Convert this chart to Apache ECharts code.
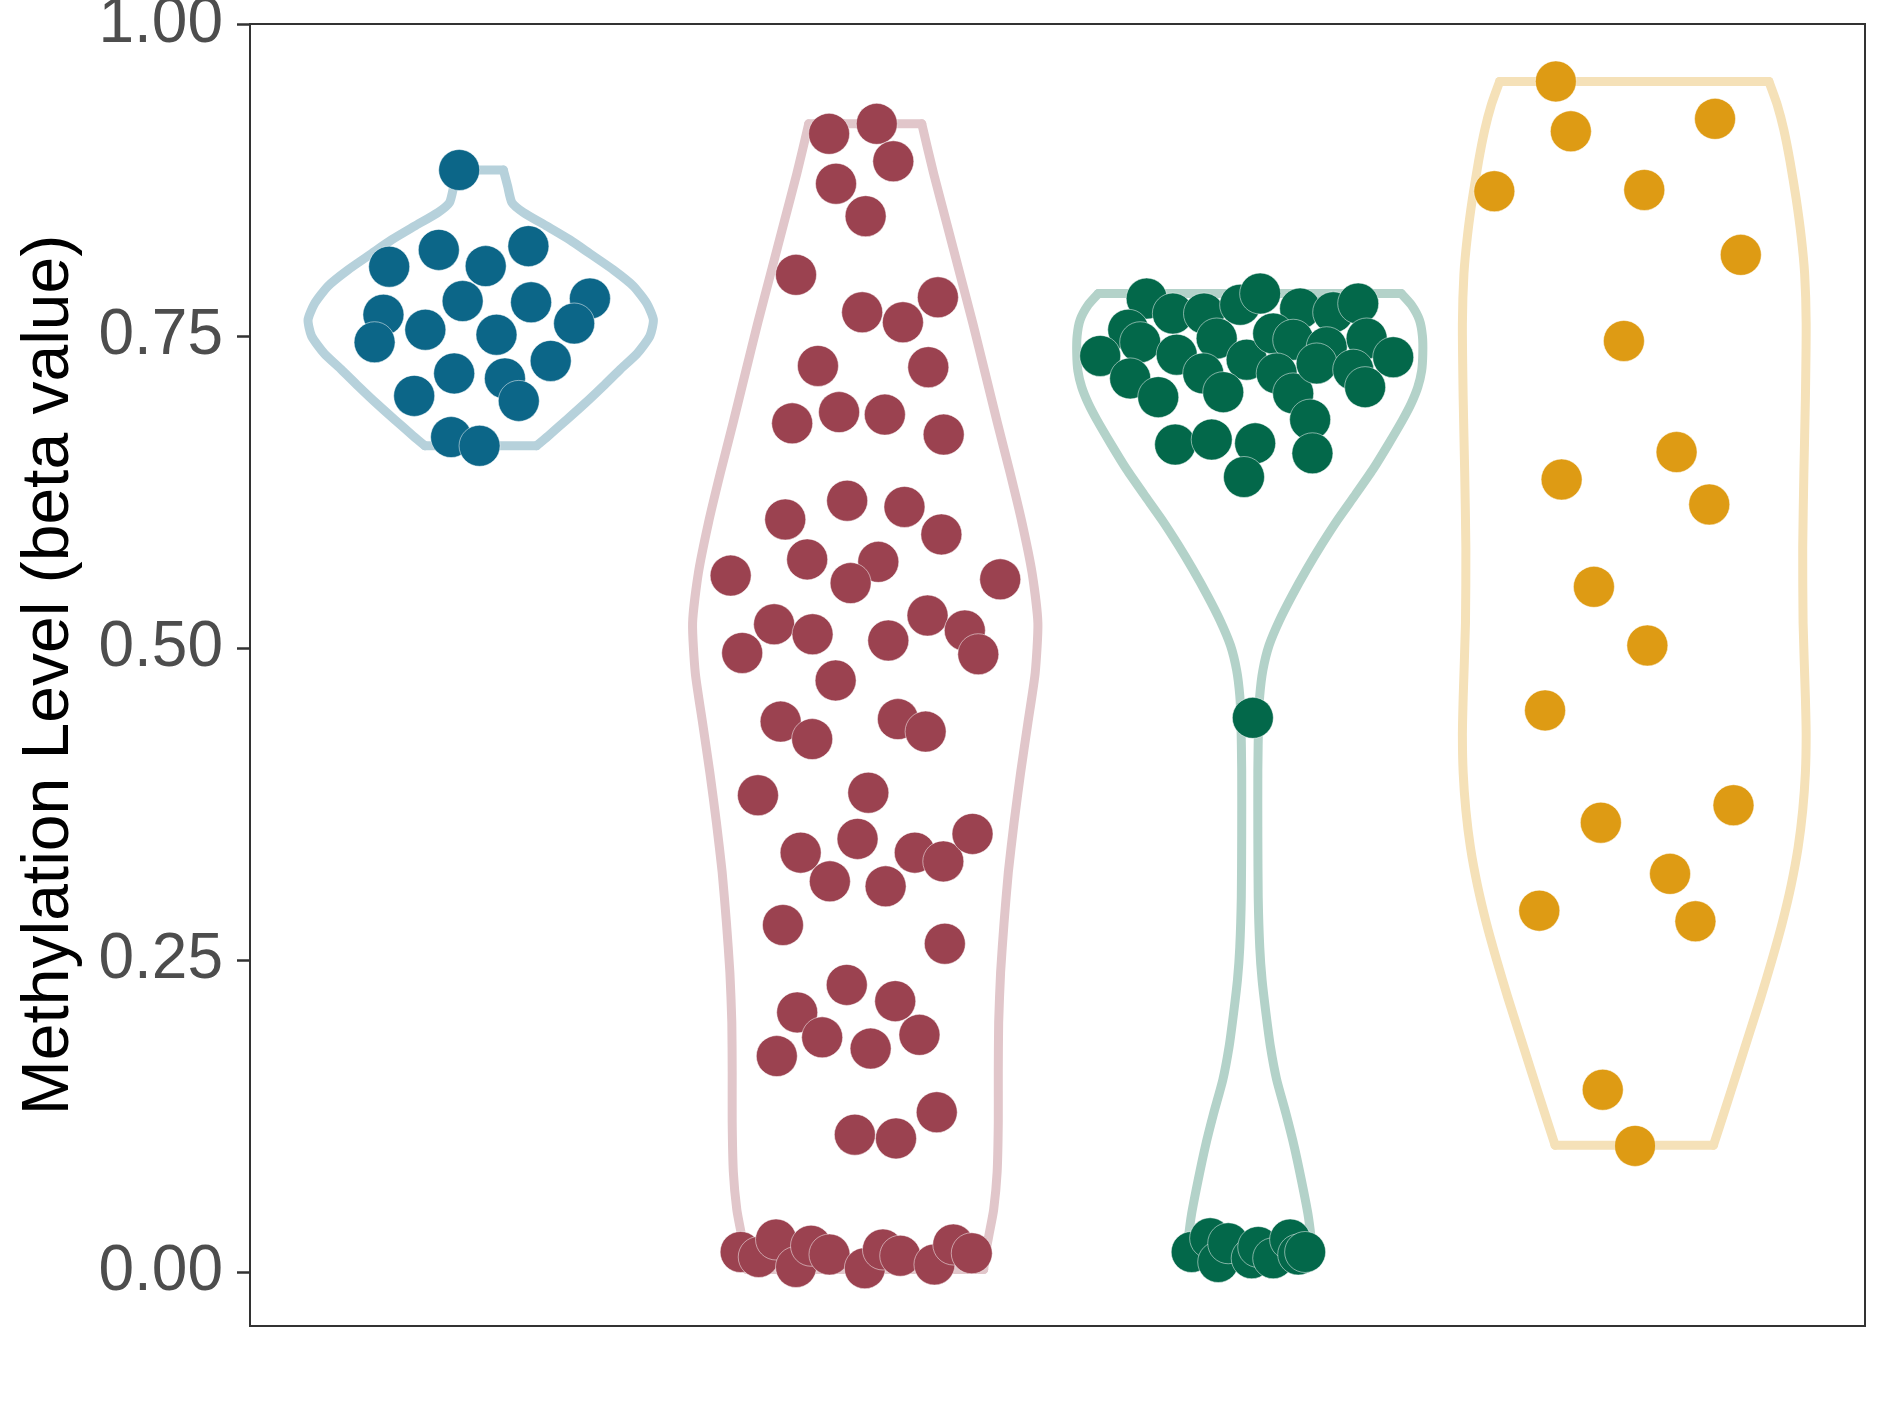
<!DOCTYPE html>
<html>
<head>
<meta charset="utf-8">
<script src="https://cdn.jsdelivr.net/npm/echarts@6/dist/echarts.min.js"></script>
<style>
html,body{margin:0;padding:0;background:#fff;}
#chart{width:1889px;height:1417px;}
</style>
</head>
<body>
<div id="chart"></div>
<script>
// ---- data ----
const groupPositions = [1, 2, 3, 4];
const dotColors = ['#0C6688', '#9B4250', '#03684A', '#DE9B14'];
const violinColors = ['#B6D1DB', '#E1C6CA', '#B3D2C9', '#F5E1B8'];
const yTicks = [0, 0.25, 0.5, 0.75, 1.0];
const yTitle = 'Methylation Level (beta value)';

// violin profiles: value levels and half widths (in category units)
const blueViolinY = [0.883,0.870,0.857,0.849,0.838,0.827,0.816,0.803,0.790,0.776,0.763,0.750,0.736,0.723,0.710,0.696,0.683,0.670,0.662];
const blueViolinHalf = [0.059,0.070,0.081,0.111,0.172,0.232,0.284,0.345,0.397,0.432,0.449,0.440,0.407,0.362,0.319,0.271,0.224,0.176,0.145];

const redViolinY = [0.920,0.88,0.84,0.80,0.76,0.72,0.68,0.64,0.60,0.56,0.52,0.48,0.44,0.40,0.36,0.32,0.28,0.24,0.20,0.16,0.12,0.08,0.05,0.03,0.015,0.002];
const redViolinHalf = [0.147,0.178,0.212,0.246,0.280,0.312,0.344,0.377,0.408,0.434,0.449,0.442,0.423,0.404,0.387,0.372,0.361,0.352,0.347,0.346,0.346,0.343,0.334,0.322,0.313,0.308];

const greenViolinY = [0.784,0.775,0.763,0.750,0.736,0.722,0.709,0.696,0.683,0.663,0.643,0.623,0.603,0.583,0.5625,0.542,0.522,0.502,0.482,0.462,0.442,0.402,0.35,0.30,0.26,0.234,0.2075,0.180,0.154,0.127,0.100,0.074,0.047,0.026,0.008];
const greenViolinHalf = [0.394,0.420,0.441,0.449,0.450,0.447,0.437,0.420,0.398,0.360,0.320,0.275,0.229,0.187,0.147,0.110,0.077,0.050,0.034,0.026,0.023,0.021,0.021,0.022,0.026,0.032,0.042,0.054,0.070,0.094,0.116,0.134,0.151,0.160,0.165];

const orangeViolinY = [0.954,0.935,0.915,0.89,0.86,0.83,0.80,0.76,0.70,0.64,0.58,0.52,0.46,0.43,0.40,0.37,0.34,0.31,0.28,0.25,0.22,0.19,0.16,0.13,0.1016];
const orangeViolinHalf = [0.350,0.372,0.389,0.405,0.421,0.434,0.443,0.447,0.445,0.441,0.438,0.439,0.445,0.447,0.445,0.438,0.426,0.408,0.385,0.358,0.329,0.298,0.267,0.236,0.206];

// jittered points: x offset from group centre, methylation value
const blueX = [-0.056,-0.238,-0.109,0.013,0.124,-0.047,0.131,0.284,-0.253,-0.276,-0.144,0.041,0.243,0.182,-0.069,0.063,0.099,-0.173,-0.077,-0.003];
const blueY = [0.883,0.8055,0.819,0.806,0.822,0.778,0.777,0.780,0.767,0.745,0.755,0.751,0.760,0.730,0.720,0.716,0.698,0.702,0.669,0.662];

const redX = [-0.094,0.030,0.073,-0.076,0.001,-0.180,-0.008,0.098,0.189,-0.123,
  0.164,-0.190,-0.068,0.051,0.204,-0.208,-0.047,0.102,0.198,-0.350,
  -0.151,0.034,-0.038,0.351,-0.237,-0.137,-0.320,0.060,0.162,0.259,
  0.294,-0.077,-0.220,-0.138,0.085,0.157,-0.279,0.008,-0.020,-0.168,
  -0.092,0.053,0.129,0.203,0.279,-0.214,0.207,-0.048,-0.177,0.078,
  -0.112,0.014,0.141,-0.230,-0.027,0.080,0.186,
  -0.324,-0.277,-0.232,-0.180,-0.141,-0.093,-0.001,0.046,0.091,0.180,0.229,0.277];
const redY = [0.912,0.920,0.890,0.872,0.846,0.799,0.769,0.761,0.781,0.726,
  0.725,0.680,0.689,0.687,0.671,0.603,0.618,0.613,0.591,0.558,
  0.571,0.569,0.552,0.555,0.519,0.511,0.496,0.506,0.526,0.514,
  0.495,0.474,0.441,0.427,0.443,0.433,0.382,0.384,0.347,0.336,
  0.313,0.309,0.336,0.329,0.351,0.278,0.263,0.230,0.208,0.217,
  0.188,0.179,0.190,0.173,0.110,0.107,0.128,
  0.016,0.012,0.026,0.004,0.021,0.014,0.003,0.018,0.013,0.006,0.022,0.015];

const greenX = [-0.268,-0.200,-0.119,-0.025,0.027,0.131,0.217,0.282,-0.316,-0.389,
  -0.285,-0.190,-0.086,-0.008,0.061,0.113,0.200,0.304,0.373,-0.311,
  -0.238,-0.121,-0.069,0.070,0.113,0.174,0.269,0.300,0.157,0.163,
  -0.194,-0.099,0.014,-0.015,0.008,
  -0.151,-0.103,-0.082,-0.056,0.005,0.022,0.061,0.105,0.126,0.144];
const greenY = [0.780,0.768,0.768,0.775,0.784,0.772,0.769,0.776,0.755,0.734,
  0.745,0.735,0.748,0.731,0.752,0.747,0.741,0.748,0.733,0.716,
  0.701,0.720,0.705,0.720,0.704,0.728,0.723,0.709,0.683,0.656,
  0.663,0.667,0.664,0.637,0.444,
  0.016,0.027,0.008,0.023,0.011,0.020,0.011,0.026,0.014,0.016];

const orangeX = [-0.204,-0.165,0.210,-0.364,0.026,0.277,-0.027,0.110,-0.189,0.195,-0.105,0.034,-0.232,0.258,-0.087,0.093,-0.247,0.159,-0.082,0.002];
const orangeY = [0.954,0.914,0.924,0.866,0.867,0.815,0.746,0.657,0.635,0.615,0.549,0.502,0.450,0.374,0.360,0.319,0.2895,0.281,0.146,0.101];

// ---- build ----
const violins = [
  [blueViolinY, blueViolinHalf],
  [redViolinY, redViolinHalf],
  [greenViolinY, greenViolinHalf],
  [orangeViolinY, orangeViolinHalf]
];
const pointsX = [blueX, redX, greenX, orangeX];
const pointsY = [blueY, redY, greenY, orangeY];

const FONT = '"Liberation Sans", Arial, Helvetica, sans-serif';

function violinSeries(i) {
  const g = groupPositions[i];
  const ys = violins[i][0], hs = violins[i][1];
  return {
    type: 'custom',
    coordinateSystem: 'cartesian2d',
    data: [[g, ys[0]]],
    encode: { x: 0, y: 1 },
    silent: true,
    clip: false,
    z: 2,
    renderItem: function (params, api) {
      const left = ys.map((y, k) => api.coord([g - hs[k], y]));
      const right = ys.map((y, k) => api.coord([g + hs[k], y]));
      const n = ys.length - 1;
      const st = { fill: 'none', stroke: violinColors[i], lineWidth: 9, lineJoin: 'round', lineCap: 'round' };
      return {
        type: 'group',
        children: [
          { type: 'polyline', shape: { points: left, smooth: 0.2 }, style: st },
          { type: 'polyline', shape: { points: right, smooth: 0.2 }, style: st },
          { type: 'line', shape: { x1: left[0][0], y1: left[0][1], x2: right[0][0], y2: right[0][1] }, style: st },
          { type: 'line', shape: { x1: left[n][0], y1: left[n][1], x2: right[n][0], y2: right[n][1] }, style: st }
        ]
      };
    }
  };
}

function pointSeries(i) {
  const g = groupPositions[i];
  return {
    type: 'scatter',
    data: pointsX[i].map((dx, k) => [g + dx, pointsY[i][k]]),
    symbol: 'circle',
    symbolSize: 41,
    z: 3,
    silent: true,
    itemStyle: { color: dotColors[i], borderColor: '#ffffff', borderWidth: 0.5, opacity: 1 }
  };
}

const series = [];
for (let i = 0; i < 4; i++) series.push(violinSeries(i));
for (let i = 0; i < 4; i++) series.push(pointSeries(i));

const chart = echarts.init(document.getElementById('chart'), null, { renderer: 'canvas', width: 1889, height: 1417 });
chart.setOption({
  animation: false,
  backgroundColor: '#ffffff',
  grid: {
    left: 250, top: 24, width: 1615, height: 1302,
    show: true, borderColor: '#333333', borderWidth: 2, backgroundColor: 'transparent',
    containLabel: false, outerBoundsMode: 'none'
  },
  xAxis: {
    type: 'value', min: 0.4, max: 4.6, show: false
  },
  yAxis: {
    type: 'value', min: -0.0433, max: 1.0,
    axisLine: { show: false },
    splitLine: { show: false },
    axisTick: { show: true, customValues: yTicks, length: 13, lineStyle: { color: '#333333', width: 2.5 } },
    axisLabel: {
      show: true, customValues: yTicks, margin: 27,
      fontSize: 64, color: '#4D4D4D', fontFamily: FONT,
      formatter: v => Number(v).toFixed(2)
    }
  },
  graphic: [{
    type: 'text',
    x: 50, y: 675,
    rotation: Math.PI / 2,
    style: { text: yTitle, fontSize: 66, fontFamily: FONT, fill: '#000000', align: 'center', verticalAlign: 'middle' }
  }],
  series: series
});
</script>
</body>
</html>
